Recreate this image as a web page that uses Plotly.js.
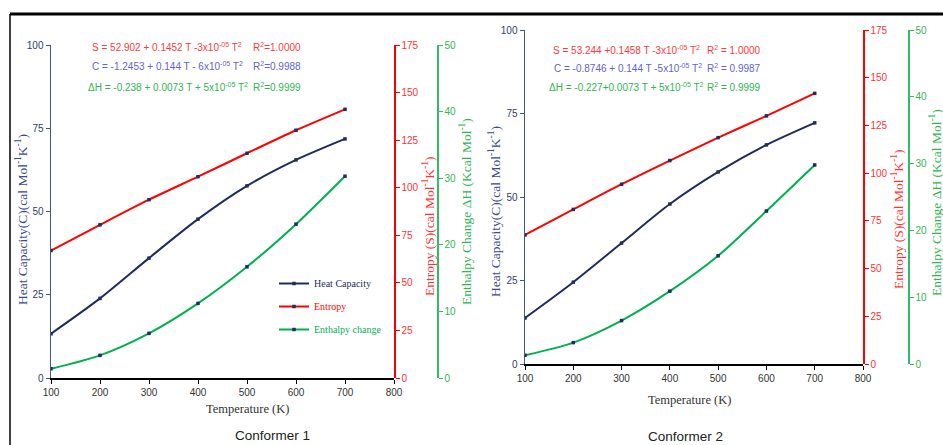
<!DOCTYPE html>
<html>
<head>
<meta charset="utf-8">
<script src="https://cdn.plot.ly/plotly-3.0.1.min.js"></script>
<style>
  html, body { margin: 0; padding: 0; background: #ffffff; }
  #chart { width: 943px; height: 445px; }
</style>
</head>
<body>
<div id="chart"></div>
<script>
// Temperatures (K) at which the thermodynamic functions were evaluated
const temps = [100, 200, 300, 400, 500, 600, 700];
const xTicks = [100, 200, 300, 400, 500, 600, 700, 800];

// Conformer 1
const heatCap1  = [13.3, 23.9, 36.0, 47.7, 57.7, 65.5, 71.8];   // cal Mol-1 K-1
const entropy1  = [67.0, 80.5, 93.7, 105.8, 118.1, 130.2, 141.2]; // cal Mol-1 K-1
const enthalpy1 = [1.4, 3.4, 6.7, 11.2, 16.7, 23.1, 30.3];       // Kcal Mol-1

// Conformer 2
const heatCap2  = [13.8, 24.5, 36.2, 47.9, 57.5, 65.6, 72.2];
const entropy2  = [67.6, 81.0, 94.2, 106.6, 118.6, 130.0, 141.8];
const enthalpy2 = [1.3, 3.2, 6.5, 10.9, 16.2, 22.9, 29.8];

const seriesNames = ['Heat Capacity', 'Entropy', 'Enthalpy change'];

// Fitted polynomial labels
const fits1 = [
  'S = 52.902 + 0.1452 T -3x10<sup>-05</sup> T<sup>2</sup>',
  'C = -1.2453 + 0.144 T - 6x10<sup>-05</sup> T<sup>2</sup>',
  '\u0394H = -0.238 + 0.0073 T + 5x10<sup>-05</sup> T<sup>2</sup>'
];
const r2Labels1 = ['R<sup>2</sup>=1.0000', 'R<sup>2</sup>=0.9988', 'R<sup>2</sup>=0.9999'];
const fits2 = [
  'S = 53.244 +0.1458 T -3x10<sup>-05</sup> T<sup>2</sup>',
  'C = -0.8746 + 0.144 T -5x10<sup>-05</sup> T<sup>2</sup>',
  '\u0394H = -0.227+0.0073 T + 5x10<sup>-05</sup> T<sup>2</sup>'
];
const r2Labels2 = ['R<sup>2</sup> = 1.0000', 'R<sup>2</sup> = 0.9987', 'R<sup>2</sup> = 0.9999'];

const W = 943, H = 445;
const px = v => v / W;
const py = v => 1 - v / H;

const NAVY = '#1f2d5c';
const RED = '#ff0000';
const GREEN = '#00b050';
const C_AXIS = '#44557f';
const EQ_RED = '#ff3a3a';
const EQ_BLUE = '#6262d4';
const EQ_GREEN = '#2fb552';

const SANS = '"Liberation Sans", Arial, sans-serif';
const SERIF = '"Liberation Serif", "Times New Roman", serif';

function series(x, y, xa, ya, color, name, group, legend) {
  return {
    x: x, y: y, xaxis: xa, yaxis: ya,
    type: 'scatter', mode: 'lines+markers',
    line: { color: color, width: 2, shape: 'spline', smoothing: 0.8 },
    marker: { color: NAVY, size: 3.5, symbol: 'square' },
    name: '<span style="color:' + color + '">' + name + '</span>',
    legendgroup: group,
    showlegend: legend,
    hoverinfo: 'x+y'
  };
}

const data = [
  series(temps, heatCap1, 'x', 'y', NAVY, seriesNames[0], 'c', true),
  series(temps, entropy1, 'x', 'y2', RED, seriesNames[1], 's', true),
  series(temps, enthalpy1, 'x', 'y3', GREEN, seriesNames[2], 'h', true),
  series(temps, heatCap2, 'x2', 'y4', NAVY, seriesNames[0], 'c', false),
  series(temps, entropy2, 'x2', 'y5', RED, seriesNames[1], 's', false),
  series(temps, enthalpy2, 'x2', 'y6', GREEN, seriesNames[2], 'h', false)
];

function xAxis(domain, anchor) {
  return {
    domain: domain, anchor: anchor, range: [100, 800],
    tickvals: xTicks, ticktext: xTicks.map(String),
    showline: true, linecolor: '#000000', linewidth: 1.5,
    ticks: 'outside', ticklen: 4, tickcolor: '#000000', tickwidth: 1,
    showgrid: false, zeroline: false,
    tickfont: { family: SANS, size: 10, color: '#333333' }
  };
}

function yAxis(opts) {
  const a = {
    range: opts.range, dtick: opts.dtick, tick0: 0,
    showline: true, linecolor: opts.line, linewidth: 1.5,
    ticks: 'outside', ticklen: 4, tickcolor: opts.line, tickwidth: 1,
    showgrid: false, zeroline: false,
    tickfont: { family: SANS, size: 10, color: opts.font },
    side: opts.side || 'left'
  };
  if (opts.domain) a.domain = opts.domain;
  if (opts.anchor) a.anchor = opts.anchor;
  if (opts.overlaying) a.overlaying = opts.overlaying;
  if (opts.position !== undefined) { a.anchor = 'free'; a.position = opts.position; }
  return a;
}

const leftX = [px(51), px(394)];
const leftY = [py(378), py(45)];
const rightX = [px(525), px(863)];
const rightY = [py(364), py(30)];

const annotations = [];
function label(text, x, y, color, size, family, opts) {
  annotations.push(Object.assign({
    text: text, xref: 'paper', yref: 'paper', x: px(x), y: py(y),
    showarrow: false, xanchor: 'center', yanchor: 'middle',
    font: { family: family, size: size, color: color }
  }, opts || {}));
}

// Fit equations
const eqColors = [EQ_RED, EQ_BLUE, EQ_GREEN];
const eqRows1 = [47, 66, 87];
const eqX1 = [90, 90, 86];
const eqRows2 = [50, 68, 87];
const eqX2 = [551, 552, 547];
for (let i = 0; i < 3; i++) {
  label(fits1[i], eqX1[i], eqRows1[i], eqColors[i], 10, SANS, { xanchor: 'left' });
  label(r2Labels1[i], 251, eqRows1[i], eqColors[i], 10, SANS, { xanchor: 'left' });
  label(fits2[i], eqX2[i], eqRows2[i], eqColors[i], 10, SANS, { xanchor: 'left' });
  label(r2Labels2[i], 705, eqRows2[i], eqColors[i], 10, SANS, { xanchor: 'left' });
}

// Axis titles
const cTitle = 'Heat Capacity(C)(cal Mol<sup>-1</sup>K<sup>-1</sup>)';
const sTitle = 'Entropy (S)(cal Mol<sup>-1</sup>K<sup>-1</sup>)';
const hTitle = 'Enthalpy Change \u0394H (Kcal Mol<sup>-1</sup>)';
label(cTitle, 21, 220, '#3d4a8c', 13.5, SERIF, { textangle: -90 });
label(sTitle, 428, 227, '#ff3333', 13.5, SERIF, { textangle: -90 });
label(hTitle, 465, 212, '#2fb552', 13.5, SERIF, { textangle: -90 });
label(cTitle, 494, 212, '#3d4a8c', 13.5, SERIF, { textangle: -90 });
label(sTitle, 897, 220, '#ff3333', 13.5, SERIF, { textangle: -90 });
label(hTitle, 935, 203, '#2fb552', 13.5, SERIF, { textangle: -90 });

label('Temperature (K)', 247, 409, '#333333', 12.5, SERIF);
label('Temperature (K)', 689, 400, '#333333', 12.5, SERIF);
label('Conformer 1', 272, 435, '#222222', 13.5, SANS);
label('Conformer 2', 685, 436, '#222222', 13.5, SANS);

const layout = {
  width: W, height: H,
  margin: { l: 0, r: 0, t: 0, b: 0 },
  paper_bgcolor: '#ffffff', plot_bgcolor: 'rgba(0,0,0,0)',
  showlegend: true,
  legend: {
    x: px(274), y: py(269), xanchor: 'left', yanchor: 'top',
    bgcolor: 'rgba(0,0,0,0)', borderwidth: 0,
    font: { family: SERIF, size: 10, color: NAVY },
    traceorder: 'grouped', tracegroupgap: 4,
    itemwidth: 30
  },
  xaxis: xAxis(leftX, 'y'),
  yaxis: yAxis({ domain: leftY, anchor: 'x', range: [0, 100], dtick: 25, line: C_AXIS, font: '#2f3d6e' }),
  yaxis2: yAxis({ overlaying: 'y', position: px(394), side: 'right', range: [0, 175], dtick: 25, line: RED, font: '#ff3333' }),
  yaxis3: yAxis({ overlaying: 'y', position: px(437), side: 'right', range: [0, 50], dtick: 10, line: '#33bb6a', font: '#2fb552' }),
  xaxis2: xAxis(rightX, 'y4'),
  yaxis4: yAxis({ domain: rightY, anchor: 'x2', range: [0, 100], dtick: 25, line: C_AXIS, font: '#2f3d6e' }),
  yaxis5: yAxis({ overlaying: 'y4', position: px(863), side: 'right', range: [0, 175], dtick: 25, line: RED, font: '#ff3333' }),
  yaxis6: yAxis({ overlaying: 'y4', position: px(908), side: 'right', range: [0, 50], dtick: 10, line: '#33bb6a', font: '#2fb552' }),
  annotations: annotations,
  shapes: [
    { type: 'line', xref: 'paper', yref: 'paper', x0: px(10), x1: 1, y0: py(14), y1: py(14),
      line: { color: '#000000', width: 3 } },
    { type: 'line', xref: 'paper', yref: 'paper', x0: px(10), x1: px(10), y0: py(14), y1: 0,
      line: { color: '#000000', width: 1.5 } }
  ]
};

Plotly.newPlot('chart', data, layout, { displayModeBar: false, staticPlot: true });
</script>
</body>
</html>
